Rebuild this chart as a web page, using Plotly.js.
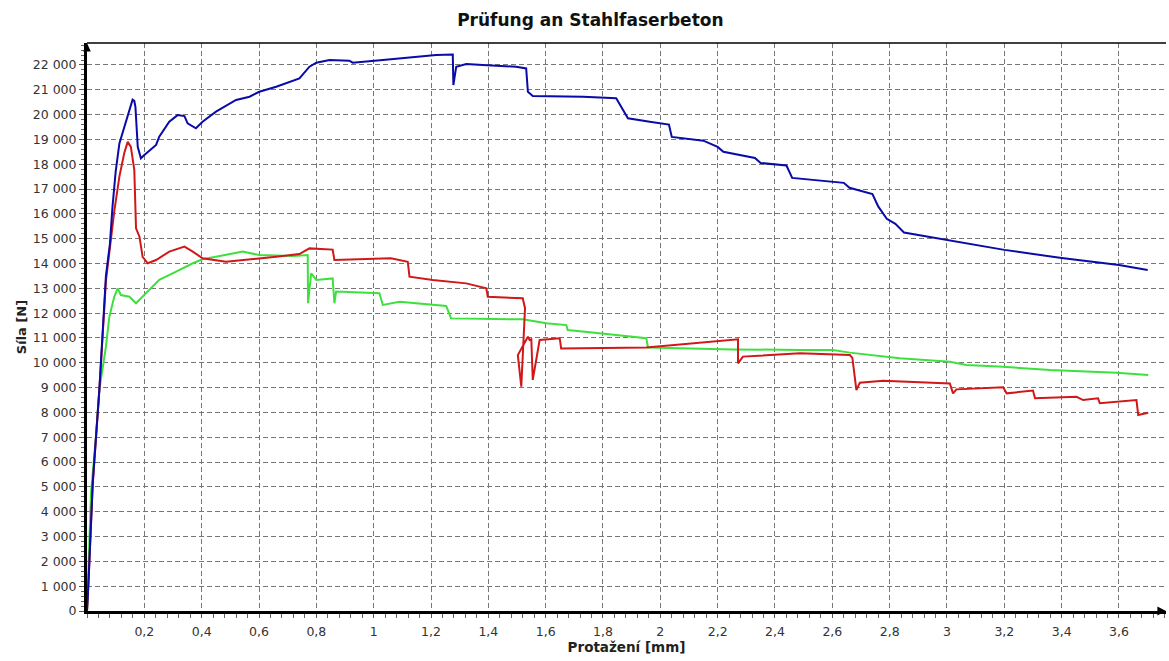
<!DOCTYPE html>
<html>
<head>
<meta charset="utf-8">
<script src="https://cdn.plot.ly/plotly-3.0.1.min.js"></script>
<style>html,body{margin:0;padding:0;background:#fff;}#chart{width:1169px;height:661px;}</style>
</head>
<body>
<div id="chart"></div>
<script>
const blueX = [0.000,0.005,0.020,0.043,0.066,0.080,0.089,0.100,0.113,0.130,0.142,0.152,0.159,0.165,0.169,0.177,0.188,0.200,0.241,0.252,0.287,0.316,0.340,0.351,0.380,0.403,0.450,0.520,0.567,0.601,0.660,0.741,0.776,0.800,0.846,0.915,0.927,1.032,1.125,1.218,1.276,1.278,1.288,1.323,1.381,1.497,1.532,1.538,1.555,1.730,1.846,1.864,1.887,1.963,2.030,2.040,2.150,2.200,2.220,2.330,2.350,2.440,2.460,2.640,2.660,2.740,2.760,2.790,2.820,2.850,3.000,3.200,3.400,3.600,3.700];
const blueY = [0,1100,5150,8900,13500,14800,16290,17700,18840,19510,19920,20300,20600,20550,20300,18700,18240,18370,18780,19110,19710,19980,19940,19650,19450,19710,20120,20590,20720,20920,21120,21460,21930,22090,22200,22170,22090,22200,22310,22400,22420,21190,21930,22040,22000,21930,21860,20920,20750,20720,20660,20320,19850,19710,19600,19100,18950,18700,18500,18250,18050,17950,17450,17250,17050,16800,16300,15800,15600,15250,14950,14550,14220,13940,13740];

const redX = [0.000,0.005,0.020,0.043,0.066,0.080,0.095,0.113,0.130,0.142,0.153,0.165,0.171,0.183,0.194,0.212,0.241,0.287,0.340,0.369,0.403,0.485,0.555,0.660,0.741,0.776,0.857,0.863,1.060,1.119,1.125,1.206,1.323,1.393,1.398,1.520,1.528,1.515,1.503,1.538,1.544,1.550,1.555,1.579,1.649,1.654,1.951,2.271,2.271,2.288,2.487,2.661,2.670,2.684,2.696,2.777,3.010,3.021,3.033,3.196,3.208,3.300,3.307,3.452,3.475,3.527,3.533,3.661,3.667,3.702];
const redY = [0,1100,5100,8900,13300,14700,16090,17500,18450,18900,18700,17770,15420,15080,14270,14010,14140,14480,14680,14480,14210,14070,14140,14270,14380,14610,14560,14140,14210,14070,13470,13340,13200,13000,12660,12600,12200,9040,10310,11050,10920,10950,9310,10920,10990,10580,10620,10950,9980,10250,10380,10310,10200,8900,9200,9280,9170,8770,8930,9010,8770,8880,8570,8630,8500,8570,8370,8500,7900,7990];

const greenX = [0.000,0.014,0.031,0.043,0.066,0.078,0.095,0.107,0.118,0.148,0.171,0.206,0.252,0.311,0.369,0.403,0.485,0.543,0.601,0.718,0.770,0.771,0.782,0.800,0.857,0.863,0.869,1.020,1.032,1.090,1.253,1.270,1.520,1.602,1.672,1.677,1.788,1.951,1.957,2.253,2.487,2.602,2.661,2.835,3.010,3.068,3.196,3.360,3.591,3.702];
const greenY = [0,4740,7020,8900,10650,11860,12660,13000,12730,12660,12400,12800,13340,13670,14010,14170,14340,14480,14340,14300,14340,12400,13600,13340,13400,12400,12870,12800,12330,12460,12290,11790,11750,11590,11520,11320,11190,10990,10620,10540,10520,10520,10410,10180,10040,9910,9840,9710,9600,9510];

const xTickVals = [0.2,0.4,0.6,0.8,1,1.2,1.4,1.6,1.8,2,2.2,2.4,2.6,2.8,3,3.2,3.4,3.6];
const xTickText = ['0,2','0,4','0,6','0,8','1','1,2','1,4','1,6','1,8','2','2,2','2,4','2,6','2,8','3','3,2','3,4','3,6'];
const yTickVals = [0,1000,2000,3000,4000,5000,6000,7000,8000,9000,10000,11000,12000,13000,14000,15000,16000,17000,18000,19000,20000,21000,22000];
const yTickText = ['0','1 000','2 000','3 000','4 000','5 000','6 000','7 000','8 000','9 000','10 000','11 000','12 000','13 000','14 000','15 000','16 000','17 000','18 000','19 000','20 000','21 000','22 000'];

const FONT = 'DejaVu Sans, Verdana, sans-serif';

const traces = [
  {x: greenX, y: greenY, mode: 'lines', line: {color: '#3ee03e', width: 2}, name: 'green', hoverinfo: 'skip'},
  {x: redX, y: redY, mode: 'lines', line: {color: '#d01818', width: 2}, name: 'red', hoverinfo: 'skip'},
  {x: blueX, y: blueY, mode: 'lines', line: {color: '#0a0aa8', width: 2}, name: 'blue', hoverinfo: 'skip'}
];

const layout = {
  width: 1169, height: 661,
  margin: {l: 87, r: 3, t: 43, b: 50},
  paper_bgcolor: '#fff', plot_bgcolor: '#fff',
  showlegend: false,
  font: {family: FONT, size: 12, color: '#333'},
  title: {text: '<b>Prüfung an Stahlfaserbeton</b>', x: 0.505, xanchor: 'center', y: 0.97, yanchor: 'middle', font: {family: FONT, size: 17, color: '#111'}},
  xaxis: {
    range: [0, 3.764], showline: true, linecolor: '#000', linewidth: 3,
    tickmode: 'array', tickvals: xTickVals, ticktext: xTickText,
    ticks: 'outside', ticklen: 4, tickcolor: '#555', ticklabelstandoff: 3,
    tickfont: {family: FONT, size: 12.5, color: '#333'},
    showgrid: true, gridcolor: '#777', gridwidth: 1, griddash: '5px,3px',
    minor: {dtick: 0.04, tick0: 0, ticks: 'outside', ticklen: 4, tickcolor: '#666', showgrid: false},
    zeroline: false,
    title: {text: '<b>Protažení [mm]</b>', font: {family: FONT, size: 13.5, color: '#222'}, standoff: 2}
  },
  yaxis: {
    range: [0, 22885], showline: true, linecolor: '#000', linewidth: 3,
    tickmode: 'array', tickvals: yTickVals, ticktext: yTickText,
    ticks: 'outside', ticklen: 5, tickcolor: '#555',
    tickfont: {family: FONT, size: 12.5, color: '#333'},
    showgrid: true, gridcolor: '#777', gridwidth: 1, griddash: '5px,3px',
    minor: {dtick: 200, tick0: 0, ticks: 'outside', ticklen: 3, tickcolor: '#666', showgrid: false},
    zeroline: false,
    title: {text: '<b>Síla [N]</b>', font: {family: FONT, size: 13, color: '#222'}, standoff: 4}
  },
  shapes: [
    {type: 'line', xref: 'paper', yref: 'paper', x0: 0, x1: 1, y0: 1, y1: 1, line: {color: '#000', width: 1.5}},
    {type: 'path', xref: 'paper', yref: 'paper', path: 'M -0.0035 0.985 L 0.0035 0.985 L 0 1.0 Z', fillcolor: '#000', line: {width: 0}},
    {type: 'path', xref: 'paper', yref: 'paper', path: 'M 0.992 -0.008 L 0.992 0.008 L 1.0 0 Z', fillcolor: '#000', line: {width: 0}}
  ]
};

Plotly.newPlot('chart', traces, layout, {staticPlot: true, displayModeBar: false});
</script>
</body>
</html>
